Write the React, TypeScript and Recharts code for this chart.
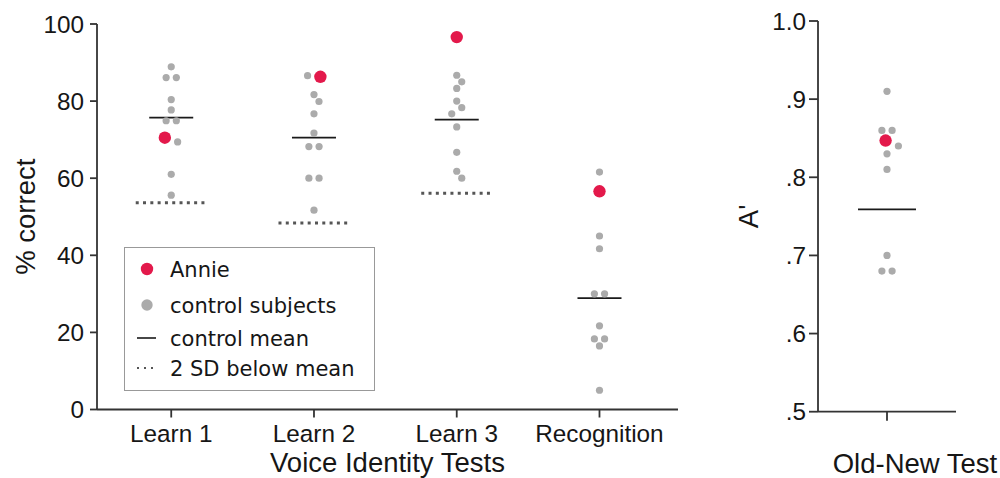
import React from "react";
import { ScatterChart, Scatter, XAxis, YAxis, Legend } from "recharts";

// ---- data ----
const categories = ["Learn 1", "Learn 2", "Learn 3", "Recognition"];
const learn1Controls = [88.9, 86.1, 86.1, 80.4, 77.7, 74.9, 74.9, 69.4, 61.0, 55.6];
const learn2Controls = [86.6, 81.7, 79.9, 76.7, 71.7, 68.2, 68.2, 60.0, 60.0, 51.7];
const learn3Controls = [86.7, 85.0, 83.3, 80.0, 78.3, 76.7, 73.3, 66.7, 61.8, 60.0];
const recognitionControls = [61.6, 45.0, 41.7, 30.0, 30.0, 21.7, 18.3, 18.3, 16.5, 5.0];
const annieScores = [70.5, 86.3, 96.6, 56.6];
const controlMeans = [75.7, 70.5, 75.2, 28.9];
const sdCutoffs = [53.6, 48.4, 56.1, null];
const percentTicks = [0, 20, 40, 60, 80, 100];

const oldNewControls = [0.91, 0.86, 0.86, 0.84, 0.83, 0.81, 0.7, 0.68, 0.68];
const annieOldNew = 0.847;
const oldNewMean = 0.759;
const aPrimeTicks = [0.5, 0.6, 0.7, 0.8, 0.9, 1.0];

const legendLabels = ["Annie", "control subjects", "control mean", "2 SD below mean"];

// ---- styling ----
const RED = "#E3194B";
const GRAY = "#ABABAB";
const AXIS = "#333";
const TEXT = "#161616";
const R_CONTROL = 3.6;
const R_ANNIE = 6.2;
const TICK_FONT = 24.3;
const TITLE_FONT = 27.5;

// plot geometry (used only to lay out the beeswarm in pixels)
const LEFT_X_DOMAIN: [number, number] = [0.48, 4.55];
const LEFT_PLOT_W = 581;
const LEFT_PLOT_H = 385.5;
const RIGHT_PLOT_W = 138;
const RIGHT_PLOT_H = 390.7;

// simple beeswarm: near-equal values sit side by side, close neighbours get nudged
function swarmOffsets(values: number[], radii: number[], pxPerY: number): number[] {
  const order = values.map((_, i) => i).sort((a, b) => values[b] - values[a]);
  const out = new Array(values.length).fill(0);
  const placed: { x: number; y: number; r: number }[] = [];
  let k = 0;
  while (k < order.length) {
    const first = order[k];
    const cluster = [first];
    const y0 = values[first] * pxPerY;
    let j = k + 1;
    while (j < order.length) {
      const idx = order[j];
      const gap = y0 - values[idx] * pxPerY;
      if (gap < 0.6 * (radii[first] + radii[idx] + 1)) {
        cluster.push(idx);
        j++;
      } else break;
    }
    const xs: number[] = [];
    let acc = 0;
    cluster.forEach((idx, i) => {
      if (i > 0) acc += radii[cluster[i - 1]] + radii[idx] + 3;
      xs.push(acc);
    });
    const base = xs.map((x) => x - acc / 2);
    const shifts = [0, 5, -5, 9, -9, 13, -13];
    let chosen = 0;
    for (const s of shifts) {
      const ok = cluster.every((idx, i) =>
        placed.every(
          (p) =>
            Math.hypot(base[i] + s - p.x, values[idx] * pxPerY - p.y) >= radii[idx] + p.r + 1
        )
      );
      if (ok) {
        chosen = s;
        break;
      }
    }
    cluster.forEach((idx, i) => {
      out[idx] = base[i] + chosen;
      placed.push({ x: out[idx], y: values[idx] * pxPerY, r: radii[idx] });
    });
    k = j;
  }
  return out;
}

function buildGroup(controls: number[], annie: number, center: number, pxPerX: number, pxPerY: number) {
  const values = [...controls, annie];
  const radii = [...controls.map(() => R_CONTROL), R_ANNIE];
  const offs = swarmOffsets(values, radii, pxPerY);
  const ctrl = controls.map((v, i) => ({ x: center + offs[i] / pxPerX, y: v }));
  const red = { x: center + offs[controls.length] / pxPerX, y: annie };
  return { ctrl, red };
}

const leftPxPerX = LEFT_PLOT_W / (LEFT_X_DOMAIN[1] - LEFT_X_DOMAIN[0]);
const leftPxPerY = LEFT_PLOT_H / 100;
const leftGroups = [learn1Controls, learn2Controls, learn3Controls, recognitionControls].map((c, i) =>
  buildGroup(c, annieScores[i], i + 1, leftPxPerX, leftPxPerY)
);
const leftControlData = leftGroups.flatMap((g) => g.ctrl);
const leftAnnieData = leftGroups.map((g) => g.red);
const leftMeanData = controlMeans.map((m, i) => ({ x: i + 1, y: m }));
const leftSdData = sdCutoffs
  .map((s, i) => (s === null ? null : { x: i + 1, y: s }))
  .filter((d) => d !== null) as { x: number; y: number }[];

const rightGroup = buildGroup(oldNewControls, annieOldNew, 1, RIGHT_PLOT_W, RIGHT_PLOT_H / 0.5);
const rightMeanData = [{ x: 1, y: oldNewMean }];

const grayDot = (p: any) => <circle cx={p.cx} cy={p.cy} r={R_CONTROL} fill={GRAY} />;
const redDot = (p: any) => <circle cx={p.cx} cy={p.cy} r={R_ANNIE} fill={RED} />;
const meanLine = (half: number) => (p: any) =>
  <line x1={p.cx - half} x2={p.cx + half} y1={p.cy} y2={p.cy} stroke="#1a1a1a" strokeWidth={1.8} />;
const sdLine = (p: any) => (
  <line x1={p.cx - 35.5} x2={p.cx + 35.5} y1={p.cy} y2={p.cy} stroke="#555" strokeWidth={3} strokeDasharray="3 4.3" />
);

function LegendBox() {
  const rowY = [22, 58, 91, 121];
  return (
    <svg width={251} height={144} style={{ display: "block" }}>
      <rect x={0.5} y={0.5} width={250} height={143} fill="#fff" stroke="#999" strokeWidth={1} />
      <circle cx={23} cy={rowY[0]} r={R_ANNIE} fill={RED} />
      <circle cx={23} cy={rowY[1]} r={R_ANNIE - 0.5} fill={GRAY} />
      <line x1={13} x2={32} y1={rowY[2]} y2={rowY[2]} stroke="#1a1a1a" strokeWidth={1.6} />
      <line x1={13} x2={31} y1={rowY[3]} y2={rowY[3]} stroke="#555" strokeWidth={2} strokeDasharray="2 5" />
      {legendLabels.map((t, i) => (
        <text key={t} x={46} y={rowY[i]} dy="0.36em" fontSize={21} fill={TEXT} fontFamily="'DejaVu Sans', sans-serif">
          {t}
        </text>
      ))}
    </svg>
  );
}

export default function App() {
  return (
    <div
      style={{
        position: "absolute",
        left: 0,
        top: 0,
        width: 1000,
        height: 478,
        background: "#fff",
        fontFamily: "'Liberation Sans', Arial, sans-serif",
      }}
    >
      <div style={{ position: "absolute", left: 0, top: 0 }}>
        <ScatterChart width={700} height={478} margin={{ top: 24, right: 22, bottom: 0, left: 0 }}>
          <XAxis
            type="number"
            dataKey="x"
            domain={LEFT_X_DOMAIN}
            ticks={[1, 2, 3, 4]}
            tickFormatter={(v: number) => categories[v - 1]}
            height={68.5}
            tickSize={8}
            tickMargin={7}
            stroke={AXIS}
            strokeWidth={1.8}
            tick={{ fontSize: TICK_FONT, fill: TEXT }}
            allowDataOverflow
            label={(p: any) => {
              const vb = p.viewBox;
              return (
                <text x={vb.x + vb.width / 2} y={vb.y + vb.height - 6} textAnchor="middle" fontSize={TITLE_FONT} fill={TEXT}>
                  Voice Identity Tests
                </text>
              );
            }}
          />
          <YAxis
            type="number"
            dataKey="y"
            domain={[0, 100]}
            ticks={percentTicks}
            width={97}
            tickSize={7}
            tickMargin={6}
            stroke={AXIS}
            strokeWidth={1.8}
            tick={{ fontSize: TICK_FONT, fill: TEXT }}
            allowDataOverflow
            label={(p: any) => {
              const vb = p.viewBox;
              const cy = vb.y + vb.height / 2;
              return (
                <text x={25} y={cy} dy="0.36em" textAnchor="middle" fontSize={TITLE_FONT} fill={TEXT} transform={`rotate(-90, 25, ${cy})`}>
                  % correct
                </text>
              );
            }}
          />
          <Legend
            layout="horizontal"
            verticalAlign="middle"
            align="center"
            content={() => <LegendBox />}
            wrapperStyle={{ left: 124, top: 247, width: 251, height: 144 }}
          />
          <Scatter data={leftSdData} shape={sdLine} isAnimationActive={false} legendType="none" />
          <Scatter data={leftMeanData} shape={meanLine(22)} isAnimationActive={false} legendType="none" />
          <Scatter data={leftControlData} shape={grayDot} isAnimationActive={false} legendType="none" />
          <Scatter data={leftAnnieData} shape={redDot} isAnimationActive={false} legendType="none" />
        </ScatterChart>
      </div>
      <div style={{ position: "absolute", left: 700, top: 0 }}>
        <ScatterChart width={300} height={478} margin={{ top: 21, right: 44, bottom: 0, left: 0 }}>
          <XAxis
            type="number"
            dataKey="x"
            domain={[0.5, 1.5]}
            ticks={[1]}
            tickFormatter={() => ""}
            height={66.3}
            tickSize={9}
            stroke={AXIS}
            strokeWidth={1.8}
            allowDataOverflow
            label={(p: any) => {
              const vb = p.viewBox;
              return (
                <text x={vb.x + vb.width / 2 + 28} y={vb.y + vb.height - 5} textAnchor="middle" fontSize={TITLE_FONT} fill={TEXT}>
                  Old-New Test
                </text>
              );
            }}
          />
          <YAxis
            type="number"
            dataKey="y"
            domain={[0.5, 1.0]}
            ticks={aPrimeTicks}
            tickFormatter={(v: number) => (v >= 1 ? "1.0" : "." + Math.round(v * 10))}
            width={118}
            tickSize={9}
            tickMargin={3}
            stroke={AXIS}
            strokeWidth={1.8}
            tick={{ fontSize: TICK_FONT, fill: TEXT }}
            allowDataOverflow
            label={(p: any) => {
              const vb = p.viewBox;
              const cy = vb.y + vb.height / 2;
              return (
                <text x={48} y={cy} dy="0.36em" textAnchor="middle" fontSize={TITLE_FONT} fill={TEXT} transform={`rotate(-90, 48, ${cy})`}>
                  A'
                </text>
              );
            }}
          />
          <Scatter data={rightMeanData} shape={meanLine(29)} isAnimationActive={false} legendType="none" />
          <Scatter data={rightGroup.ctrl} shape={grayDot} isAnimationActive={false} legendType="none" />
          <Scatter data={[rightGroup.red]} shape={redDot} isAnimationActive={false} legendType="none" />
        </ScatterChart>
      </div>
    </div>
  );
}
